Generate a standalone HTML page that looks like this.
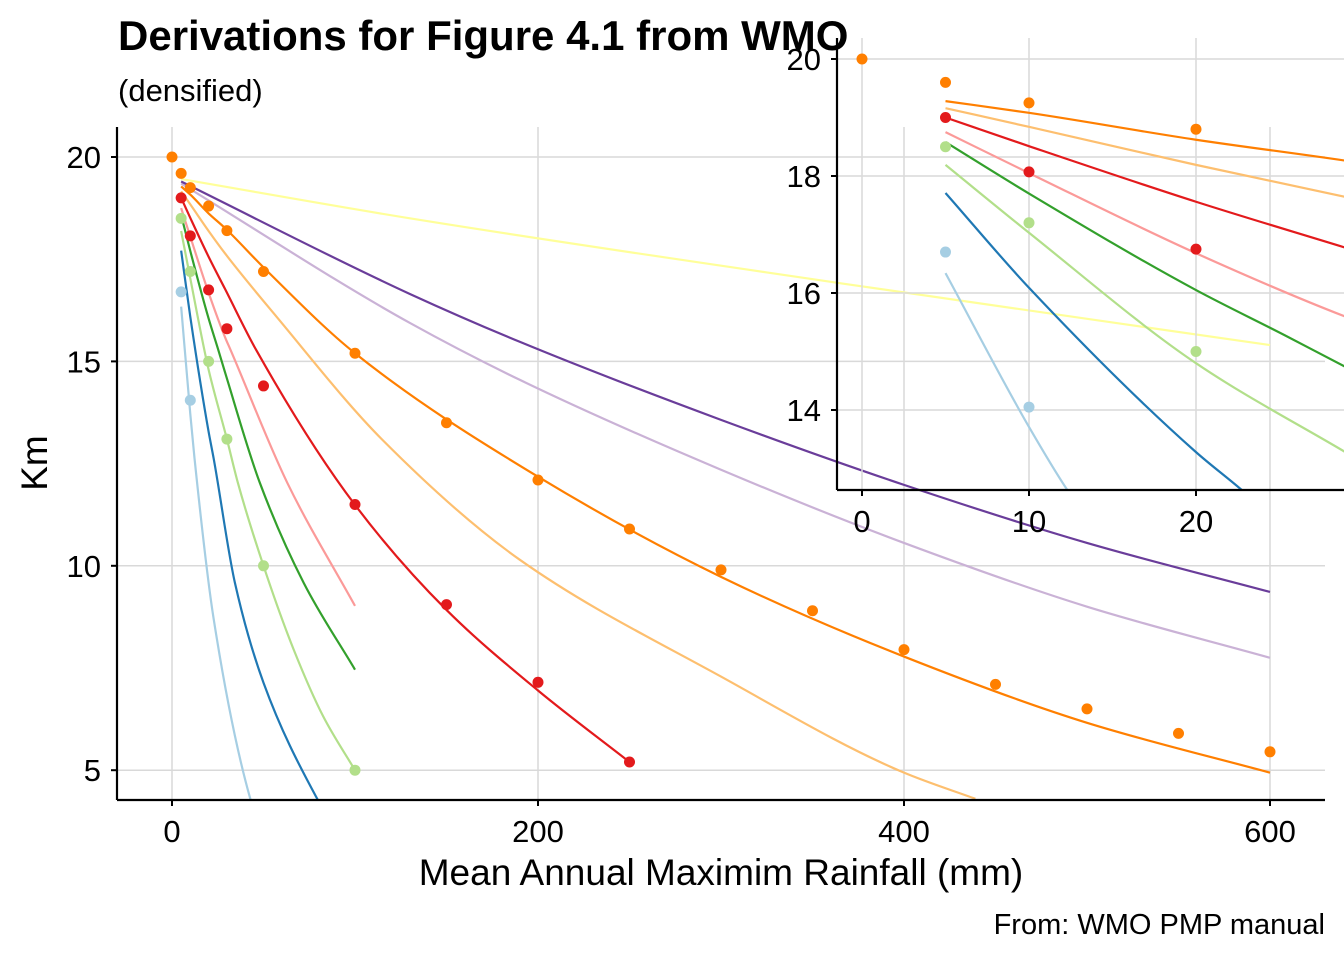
<!DOCTYPE html>
<html><head><meta charset="utf-8">
<style>
body{margin:0;background:#fff;}
svg{display:block;font-family:"Liberation Sans",Arial,sans-serif;}
</style></head>
<body>
<svg id="chart" width="1344" height="960" viewBox="0 0 1344 960" xmlns="http://www.w3.org/2000/svg">
<defs>
<clipPath id="mainClip"><rect x="117" y="127" width="1208" height="673"/></clipPath>
<clipPath id="insetClip"><rect x="837" y="38" width="507" height="452"/></clipPath>
</defs>
<text x="118" y="50" font-size="42" font-weight="bold">Derivations for Figure 4.1 from WMO</text>
<text x="118" y="101" font-size="31">(densified)</text>
<text x="1325" y="934" font-size="29" text-anchor="end">From: WMO PMP manual</text>
<text x="721" y="885" font-size="37" text-anchor="middle">Mean Annual Maximim Rainfall (mm)</text>
<text transform="translate(47,463) rotate(-90)" font-size="37" text-anchor="middle">Km</text>
<g id="main"></g>
<g id="inset"></g>
</svg>
<script>
const NS="http://www.w3.org/2000/svg";
const xTicks=[0,200,400,600];
const yTicks=[5,10,15,20];
const insetXTicks=[0,10,20];
const insetYTicks=[14,16,18,20];
const seriesNames=["orange","lightorange","red","pink","green","lightgreen","blue","lightblue","lavender","purple","yellow"];
const seriesColors=["#FF7F00","#FDBF6F","#E31A1C","#FB9A99","#33A02C","#B2DF8A","#1F78B4","#A6CEE3","#CAB2D6","#6A3D9A","#FFFF99"];
const orangeX=[5,10,20,29,50,100,200,300,400,500,600];
const orangeY=[19.28,19.08,18.62,18.26,17.3,15.2,12.18,9.73,7.78,6.16,4.94];
const lightorangeX=[5,10,20,29,57,115,190,300,400,439];
const lightorangeY=[19.16,18.84,18.19,17.64,16.1,13.08,10.15,7.29,4.94,4.3];
const redX=[5,10,20,29,46,100,150,200,250];
const redY=[19.0,18.51,17.56,16.77,15.28,11.49,8.92,6.95,5.2];
const pinkX=[5,10,20,29,32,63,100];
const pinkY=[18.75,18.05,16.68,15.59,15.28,12.03,9.02];
const greenX=[5,10,20,25.3,29,48,72,100];
const greenY=[18.58,17.7,16.05,15.28,14.73,12.03,9.58,7.46];
const lightgreenX=[5,10,20,30,36,50,66.5,82.7,100];
const lightgreenY=[18.19,17.03,14.8,13.1,12.03,10.0,7.95,6.31,5.0];
const blueX=[5,10,20,22.75,34.4,50,79,82];
const blueY=[17.71,16.09,13.28,12.63,9.58,7.14,4.33,4.1];
const lightblueX=[5,10,12.3,22.6,42.6,45];
const lightblueY=[16.34,13.71,12.63,8.75,4.33,4.0];
const lavenderX=[5,130,190,300,400,500,600];
const lavenderY=[19.35,15.94,14.55,12.35,10.56,9.0,7.75];
const purpleX=[5,130,190,300,400,500,600];
const purpleY=[19.4,16.65,15.48,13.57,11.98,10.56,9.36];
const yellowX=[5,130,364,600];
const yellowY=[19.46,18.5,16.92,15.4];
const orangePtX=[0,5,10,20,30,50,100,150,200,250,300,350,400,450,500,550,600];
const orangePtY=[20,19.6,19.25,18.8,18.2,17.2,15.2,13.5,12.1,10.9,9.9,8.9,7.95,7.1,6.5,5.9,5.45];
const redPtX=[5,10,20,30,50,100,150,200,250];
const redPtY=[19.0,18.07,16.75,15.8,14.4,11.5,9.05,7.15,5.2];
const lightgreenPtX=[5,10,20,30,50,100];
const lightgreenPtY=[18.5,17.2,15.0,13.1,10.0,5.0];
const lightbluePtX=[5,10];
const lightbluePtY=[16.7,14.05];

const lineX=[orangeX,lightorangeX,redX,pinkX,greenX,lightgreenX,blueX,lightblueX,lavenderX,purpleX,yellowX];
const lineY=[orangeY,lightorangeY,redY,pinkY,greenY,lightgreenY,blueY,lightblueY,lavenderY,purpleY,yellowY];
const ptSets=[[orangePtX,orangePtY,0],[redPtX,redPtY,2],[lightgreenPtX,lightgreenPtY,5],[lightbluePtX,lightbluePtY,7]];

function mk(tag,attrs,parent){const e=document.createElementNS(NS,tag);for(const k in attrs)e.setAttribute(k,attrs[k]);parent.appendChild(e);return e;}
// monotone cubic (Fritsch-Carlson) path in pixel space
function monotone(pts){
  const n=pts.length;
  if(n<3){return "M"+pts.map(p=>p.join(",")).join(" L");}
  const dx=[],s=[];
  for(let i=0;i<n-1;i++){dx[i]=pts[i+1][0]-pts[i][0];s[i]=(pts[i+1][1]-pts[i][1])/dx[i];}
  const m=[s[0]];
  for(let i=1;i<n-1;i++){ m[i]=(s[i-1]*s[i]<=0)?0:(dx[i-1]+dx[i])/((2*dx[i]+dx[i-1])/(3*s[i-1])+(dx[i]+2*dx[i-1])/(3*s[i])); }
  m[n-1]=s[n-2];
  let d="M"+pts[0][0]+","+pts[0][1];
  for(let i=0;i<n-1;i++){
    const h=dx[i]/3;
    d+=" C"+(pts[i][0]+h)+","+(pts[i][1]+m[i]*h)+" "+(pts[i+1][0]-h)+","+(pts[i+1][1]-m[i+1]*h)+" "+pts[i+1][0]+","+pts[i+1][1];
  }
  return d;
}
function panel(g,sx,sy,clip,x0,x1,y0,y1,xt,yt,seriesIdx,ptMax,prefix,fs,yLab,xLab){
  for(const t of yt){const l=mk("line",{x1:x0,x2:x1,y1:sy(t),y2:sy(t),stroke:"#d9d9d9","stroke-width":1.5},g);
    
    }
  for(const t of xt){const l=mk("line",{x1:sx(t),x2:sx(t),y1:y0,y2:y1,stroke:"#d9d9d9","stroke-width":1.5},g);
    
    }
  const cg=mk("g",{"clip-path":"url(#"+clip+")"},g);
  for(const i of seriesIdx){
    const pts=lineX[i].map((x,j)=>[sx(x),sy(lineY[i][j])]);
    const p=mk("path",{d:monotone(pts),fill:"none",stroke:seriesColors[i],"stroke-width":2.2},cg);
    
    
  }
  for(const [xs,ys,ci] of ptSets){
    xs.forEach((x,j)=>{ if(x>ptMax) return;
      const c=mk("circle",{cx:sx(x),cy:sy(ys[j]),r:5.5,fill:seriesColors[ci]},cg);
      
      
    });
  }
  const ax=mk("line",{x1:x0,x2:x0,y1:y0,y2:y1,stroke:"#000","stroke-width":2.2},g);
  
  
  const bx=mk("line",{x1:x0,x2:x1,y1:y1,y2:y1,stroke:"#000","stroke-width":2.2},g);
  
  
  for(const t of yt){
    mk("line",{x1:x0-6,x2:x0,y1:sy(t),y2:sy(t),stroke:"#000","stroke-width":2},g);
    const tx=mk("text",{x:yLab,y:sy(t)+11,"font-size":fs,"text-anchor":"end"},g);tx.textContent=t;
    
    
  }
  for(const t of xt){
    mk("line",{x1:sx(t),x2:sx(t),y1:y1,y2:y1+6,stroke:"#000","stroke-width":2},g);
    const tx=mk("text",{x:sx(t),y:y1+xLab,"font-size":fs,"text-anchor":"middle"},g);tx.textContent=t;
    
    
  }
}
const mx=v=>172+v*1.83, my=v=>157+(20-v)*40.88;
const ix=v=>862+v*16.7, iy=v=>59+(20-v)*58.5;
const main=document.getElementById("main");


panel(main,mx,my,"mainClip",117,1325,127,800,xTicks,yTicks,[0,1,2,3,4,5,6,7,8,9,10],1000,"",31,101,42);
const inset=document.getElementById("inset");


panel(inset,ix,iy,"insetClip",837,1344,38,490,insetXTicks,insetYTicks,[0,1,2,3,4,5,6,7],30,"inset-",31,821,42);
</script>
</body></html>
